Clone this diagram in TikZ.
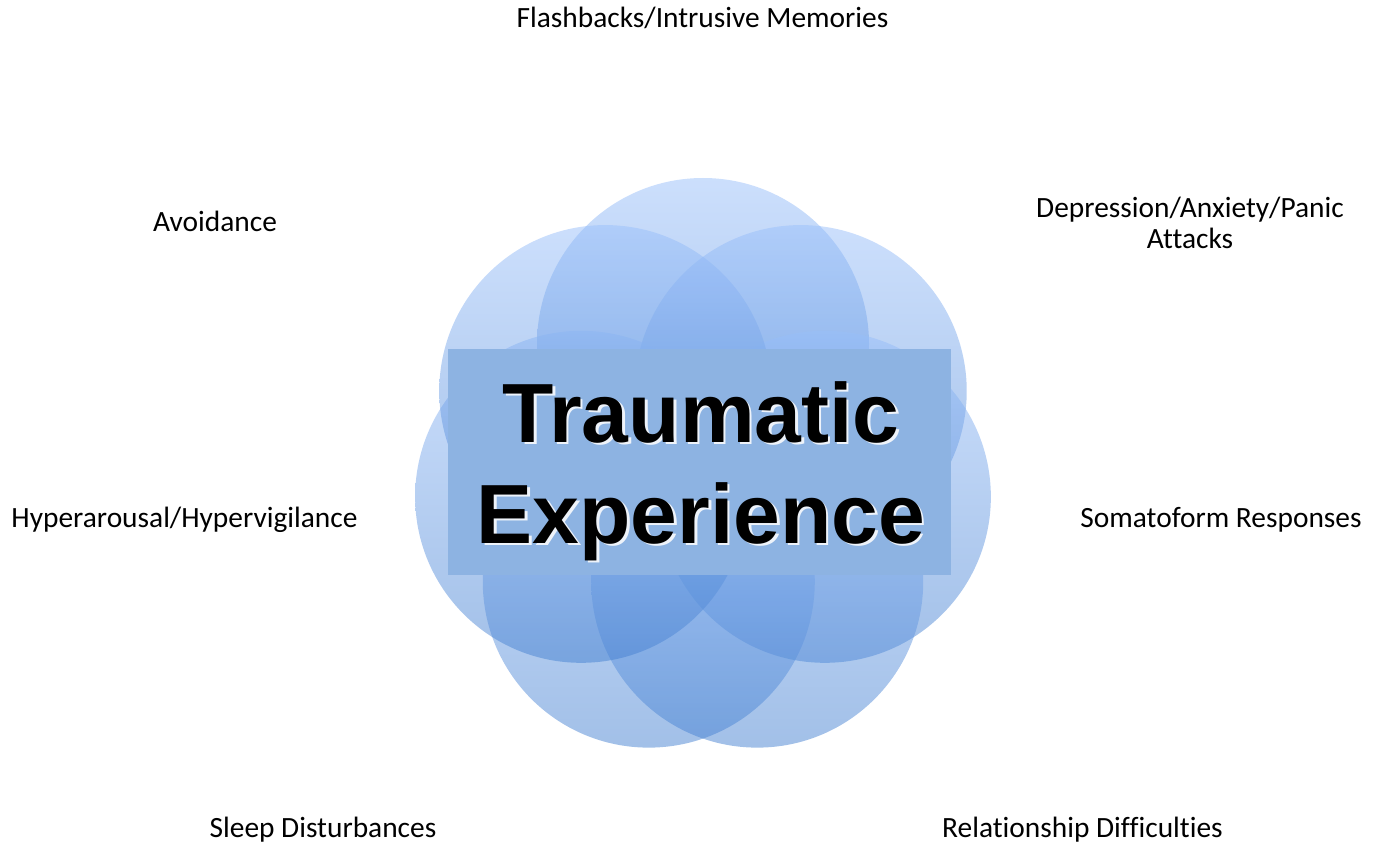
\documentclass[tikz,border=0pt]{standalone}
\usepackage{fontspec}
\setmainfont{Carlito}[Ligatures=NoCommon]
\newfontfamily\titlefont{Liberation Sans}

\definecolor{petaltop}{RGB}{153,191,250}
\definecolor{petalbot}{RGB}{69,129,209}
\definecolor{boxblue}{RGB}{141,179,226}

\begin{document}
\begin{tikzpicture}[x=1pt,y=-1pt,
    lbl/.style={font=\fontsize{29.4}{31}\selectfont, align=center, anchor=base, inner sep=0},
    bigtext/.style={font=\titlefont\bfseries\fontsize{84}{101}\selectfont, align=center, anchor=base, inner sep=0}]
    \useasboundingbox (0,0) rectangle (1375,845);
    \coordinate (hub) at (703,469);
    \foreach \a in {-90,-38.57,12.86,64.29,115.71,167.14,218.57}
        \shade[top color=petaltop, bottom color=petalbot, fill opacity=0.5] ([shift={(\a:125)}]hub) circle (166);
    \node[fill=boxblue, minimum width=503, minimum height=226, inner sep=0] (box) at (699.5,462) {};
    \node[bigtext, text=white, opacity=0.85] (glow) at (703.5,545.5) {Traumatic\\Experience};
    \node[bigtext, text=black] (title) at (701,543) {Traumatic\\Experience};
    \node[lbl] (flash) at (702.5,28) {Flashbacks/Intrusive Memories};
    \node[lbl] (avoid) at (215,231) {Avoidance};
    \node[lbl] (depr) at (1190,248) {Depression/Anxiety/Panic\\Attacks};
    \node[lbl] (hyper) at (184.5,527) {Hyperarousal/Hypervigilance};
    \node[lbl] (soma) at (1221,527) {Somatoform Responses};
    \node[lbl] (sleep) at (323,837) {Sleep Disturbances};
    \node[lbl] (relat) at (1082.5,837) {Relationship Difficulties};
\end{tikzpicture}
\end{document}
